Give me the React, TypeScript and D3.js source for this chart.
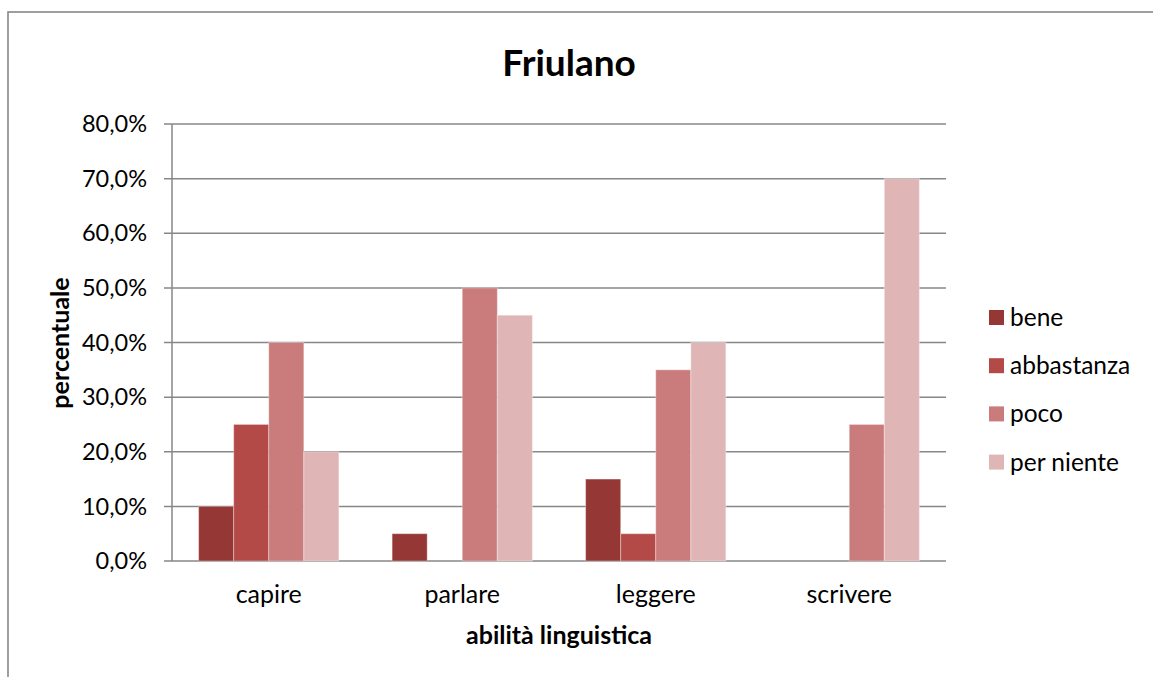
import React from "react";
import * as d3 from "d3";

const categories = ["capire", "parlare", "leggere", "scrivere"];
const seriesNames = ["bene", "abbastanza", "poco", "per niente"];
const bene = [0.10, 0.05, 0.15, 0.0];
const abbastanza = [0.25, 0.0, 0.05, 0.0];
const poco = [0.40, 0.50, 0.35, 0.25];
const perNiente = [0.20, 0.45, 0.40, 0.70];
const yTicks = [0, 0.1, 0.2, 0.3, 0.4, 0.5, 0.6, 0.7, 0.8];
const colors = ["#953735", "#B34A47", "#C97C7B", "#DFB6B5"];

const seriesValues = [bene, abbastanza, poco, perNiente];

const W = 1153;
const H = 677;
const FONT = "Lato, 'Open Sans', sans-serif";

export default function App() {
  const plotLeft = 172;
  const plotRight = 946;
  const plotTop = 124;
  const plotBottom = 561;
  const pad = 53.25 / 193.5;

  const x = d3
    .scaleBand<string>()
    .domain(categories)
    .range([plotLeft, plotRight])
    .paddingInner(pad)
    .paddingOuter(pad / 2);
  const xs = d3
    .scaleBand<string>()
    .domain(seriesNames)
    .range([0, x.bandwidth()]);
  const y = d3.scaleLinear().domain([0, 0.8]).range([plotBottom, plotTop]);
  const fmt = d3
    .formatLocale({ decimal: ",", thousands: ".", grouping: [3], currency: ["", "€"] })
    .format(".1%");

  const gridColor = "#878787";

  return (
    <svg
      width={W}
      height={H}
      style={{ position: "absolute", left: 0, top: 0, background: "#fff" }}
      fontFamily={FONT}
    >
      <rect x={8} y={12} width={1300} height={800} fill="#fff" stroke={gridColor} strokeWidth={1.6} />
      <text x={569} y={76} textAnchor="middle" fontSize={37} fontWeight="bold" fill="#000">
        Friulano
      </text>
      {yTicks.map((t) => (
        <g key={t}>
          <line x1={164} x2={plotRight} y1={y(t)} y2={y(t)} stroke={gridColor} strokeWidth={1.5} />
          <text x={147} y={y(t)} dy="0.35em" textAnchor="end" fontSize={23.5} fill="#000">
            {fmt(t)}
          </text>
        </g>
      ))}
      <line x1={plotLeft} x2={plotLeft} y1={plotTop} y2={plotBottom} stroke={gridColor} strokeWidth={1.5} />
      {seriesValues.map((vals, si) =>
        vals.map((v, ci) =>
          v > 0 ? (
            <rect
              key={`${si}-${ci}`}
              x={(x(categories[ci]) as number) + (xs(seriesNames[si]) as number)}
              y={y(v)}
              width={xs.bandwidth()}
              height={y(0) - y(v)}
              fill={colors[si]}
              stroke="rgba(255,255,255,0.35)"
              strokeWidth={1}
            />
          ) : null
        )
      )}
      {categories.map((c) => (
        <text
          key={c}
          x={(x(c) as number) + x.bandwidth() / 2}
          y={603}
          textAnchor="middle"
          fontSize={25}
          fill="#000"
        >
          {c}
        </text>
      ))}
      <text x={559} y={644} textAnchor="middle" fontSize={25} fontWeight="bold" fill="#000">
        abilità linguistica
      </text>
      <text
        transform={`translate(69,343) rotate(-90)`}
        textAnchor="middle"
        fontSize={25}
        fontWeight="bold"
        fill="#000"
      >
        percentuale
      </text>
      {seriesNames.map((s, i) => (
        <g key={s} transform={`translate(989,${310 + i * 48.2})`}>
          <rect width={15} height={15} fill={colors[i]} />
          <text x={21} y={7.5} dy="0.35em" fontSize={24.5} fill="#000">
            {s}
          </text>
        </g>
      ))}
    </svg>
  );
}
